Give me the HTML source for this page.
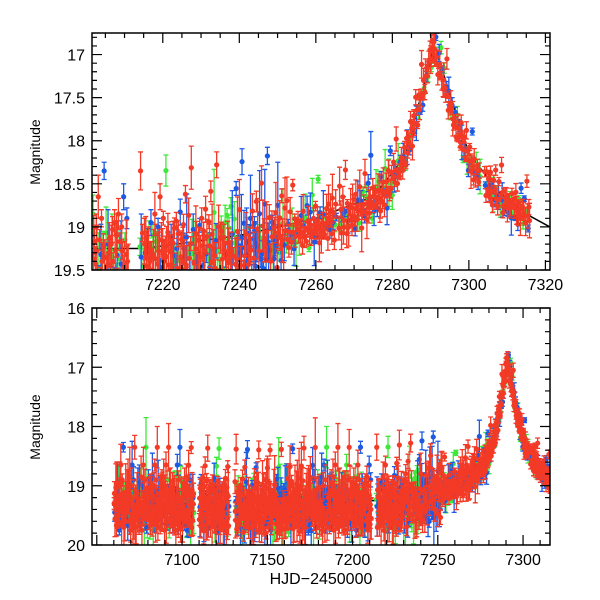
<!DOCTYPE html>
<html><head><meta charset="utf-8"><style>
body{margin:0;background:#fff}
svg{display:block}
text{font-family:"Liberation Sans",sans-serif;fill:#000}
</style></head><body>
<svg id="chart" width="600" height="600">
<defs>
<clipPath id="c1"><rect x="92" y="33" width="458" height="237"/></clipPath>
<clipPath id="c2"><rect x="92" y="308" width="458" height="237"/></clipPath>
</defs>
<g id="top"></g>
<g id="bot"></g>
<text x="40" y="152" font-size="14" text-anchor="middle" transform="rotate(-90 40 152)">Magnitude</text>
<text x="40" y="427" font-size="14" text-anchor="middle" transform="rotate(-90 40 427)">Magnitude</text>
<text x="321" y="584" font-size="16" text-anchor="middle">HJD−2450000</text>
</svg>
<script>
// light-curve baseline
const baseDays=[7050,7100,7150,7180,7200,7220,7240,7250,7260,7270,7278,7283,7287,7290,7291,7293,7296,7300,7305,7310,7316];
const baseMags=[19.25,19.25,19.3,19.25,19.25,19.25,19.15,19.05,18.95,18.8,18.55,18.2,17.6,17.0,16.9,17.2,17.7,18.2,18.5,18.7,18.85];
// observing gaps (start,end)
const gapStart=[7056,7107,7127.5,7211,7265.5,7303];
const gapEnd=[7060,7110,7131,7214,7266,7304];
// scatter offsets of individual measurements (mag)
const jitter=[0.05,-0.12,0.2,0.31,-0.05,0.1,-0.22,0.15,0.42,-0.3,0.02,0.25,-0.15,0.08,0.35,-0.4,0.12,-0.08,0.5,0.18,-0.25,0.03,0.28,-0.6,0.22,-0.1,0.4,0.07,-0.35,0.15,0.3,-0.02,-0.9,0.1,0.45,-0.18,0.2,0.33,-0.05];
// error bar sizes (mag)
const errs=[0.1,0.2,0.15,0.3,0.08,0.25,0.4,0.12,0.18,0.35,0.1,0.22,0.5,0.15];
// filter pattern per measurement: r=red, g=green, b=blue
const filt="rrbrgrrbrrgrbrrgrrbr";
const colors={r:"#f23a26",g:"#3ee83a",b:"#1c5ae6"};
// model curve (black)
const modelDays=[7201,7215,7240,7260,7275,7283,7288,7291,7295,7300,7308,7315,7322];
const modelMags=[19.25,19.25,19.1,18.9,18.65,18.2,17.4,16.9,17.45,18.15,18.6,18.85,19.02];

function baseAt(d){for(let i=0;i<baseDays.length-1;i++){if(d<=baseDays[i+1]){const t=(d-baseDays[i])/(baseDays[i+1]-baseDays[i]);return baseMags[i]+t*(baseMags[i+1]-baseMags[i]);}}return baseMags[baseMags.length-1];}
const NS="http://www.w3.org/2000/svg";
function mk(t,a,p){const e=document.createElementNS(NS,t);for(const k in a)e.setAttribute(k,a[k]);p.appendChild(e);return e;}

const points=[];
let idx=0;
for(let d=7060;d<=7316;d+=0.17){
  let skip=false;for(let g=0;g<gapStart.length;g++)if(d>=gapStart[g]&&d<=gapEnd[g])skip=true;
  if(skip)continue;
  const s=d>7280?0.4:(d>7252?0.55:1);
  const j=jitter[idx%jitter.length]*s;
  let f=filt[idx%filt.length];
  if(d>7240&&d<7250&&idx%2==0)f="b";
  if(d>7182&&d<7188&&idx%2==0)f="b";
  if(d>7234&&d<7239&&idx%3==0)f="g";
  points.push({d:d,m:baseAt(d)+j,e:errs[idx%errs.length]*s,f:f});
  idx++;
}

function panel(g,clip,box,xmin,xmax,ymin,ymax,xmaj,xmin_,xlabs,ymaj,ymin_,ylabs,nm){
  const X=v=>box.x+(v-xmin)/(xmax-xmin)*box.w;
  const Y=v=>box.y+(v-ymin)/(ymax-ymin)*box.h;
  const cg=mk("g",{"clip-path":"url(#"+clip+")"},g);
  
  
  let p="";for(let i=0;i<modelDays.length;i++)p+=(i?"L":"M")+X(modelDays[i])+" "+Y(modelMags[i]);
  const ml=mk("path",{d:p,stroke:"#000","stroke-width":1.5,fill:"none"},cg);
  
  
  ["g","b","r"].forEach(f=>{
    const sg=mk("g",{stroke:colors[f],fill:colors[f],"stroke-width":1.3},cg);
    
    
    points.filter(q=>q.f==f).forEach(q=>{
      const x=X(q.d),y=Y(q.m),y1=Y(q.m-q.e),y2=Y(q.m+q.e);
      mk("path",{d:`M${x} ${y1}V${y2}M${x-2.5} ${y1}h5M${x-2.5} ${y2}h5`},sg);
      const c=mk("circle",{cx:x,cy:y,r:2.6,stroke:"none"},sg);
      
      
    });
  });
  const fr=mk("rect",{x:box.x,y:box.y,width:box.w,height:box.h,fill:"none",stroke:"#000","stroke-width":1.5},g);
  
  
  let t="";
  for(let v=Math.ceil(xmin/xmin_)*xmin_;v<=xmax;v+=xmin_){const x=X(v);const L=(Math.abs(v/xmaj-Math.round(v/xmaj))<1e-6)?10:5;t+=`M${x} ${box.y+box.h}v${-L}M${x} ${box.y}v${L}`;}
  for(let v=Math.ceil(ymin/ymin_-1e-6)*ymin_;v<=ymax+1e-6;v+=ymin_){const y=Y(v);const L=(Math.abs(v/ymaj-Math.round(v/ymaj))<1e-6)?10:5;t+=`M${box.x} ${y}h${L}M${box.x+box.w} ${y}h${-L}`;}
  const tk=mk("path",{d:t,stroke:"#000","stroke-width":1.2,fill:"none"},g);
  
  
  xlabs.forEach(v=>{const e=mk("text",{x:X(v),y:box.y+box.h+20,"font-size":16,"text-anchor":"middle"},g);e.textContent=v;
    
    });
  ylabs.forEach(v=>{const e=mk("text",{x:box.x-7,y:Y(v)+6,"font-size":16,"text-anchor":"end"},g);e.textContent=v;
    
    });
}
const topXLabels=[7220,7240,7260,7280,7300,7320];
const topYLabels=[17,17.5,18,18.5,19,19.5];
const botXLabels=[7100,7150,7200,7250,7300];
const botYLabels=[16,17,18,19,20];
panel(document.getElementById("top"),"c1",{x:92,y:33,w:458,h:237},7201.5,7321.2,16.75,19.5,20,5,topXLabels,0.5,0.1,topYLabels,"top-panel");
panel(document.getElementById("bot"),"c2",{x:92,y:308,w:458,h:237},7047.2,7315.8,16,20,50,10,botXLabels,1,0.2,botYLabels,"bottom-panel");
</script>
</body></html>
